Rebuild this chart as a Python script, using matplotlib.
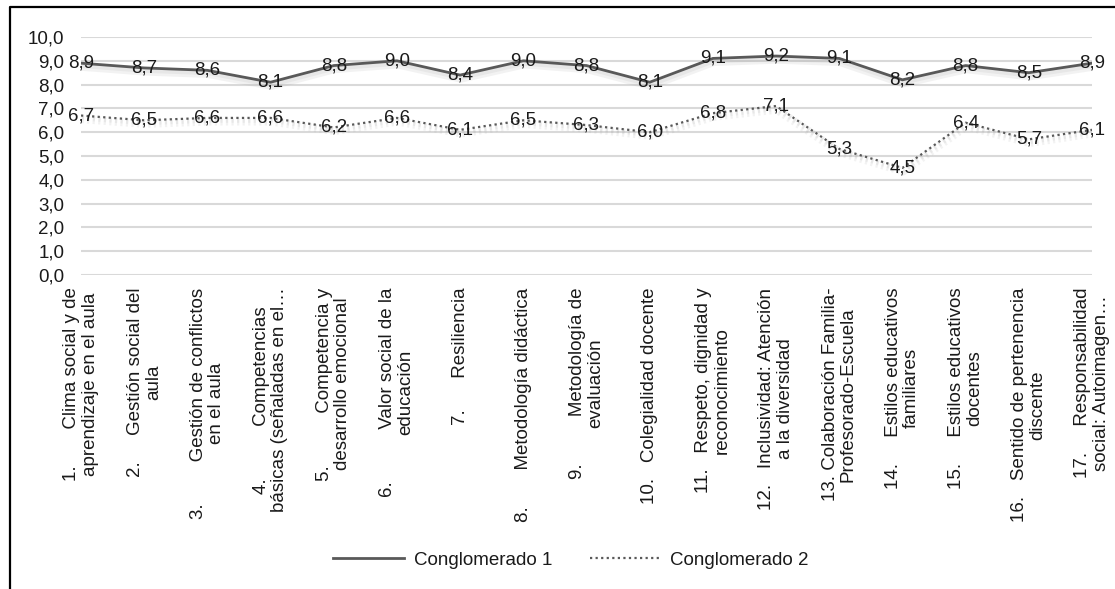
import matplotlib
matplotlib.use("Agg")
import matplotlib.pyplot as plt
import matplotlib.patheffects as pe
from matplotlib.lines import Line2D
from matplotlib.ticker import FuncFormatter


CATEGORIES = [
    "1." + " " * 7 + "Clima social y de\naprendizaje en el aula",
    "2." + " " * 5 + "Gestión social del\naula",
    "3." + " " * 8 + "Gestión de conflictos\nen el aula",
    "4." + " " * 10 + "Competencias\nbásicas (señaladas en el…",
    "5." + " " * 10 + "Competencia y\ndesarrollo emocional",
    "6." + " " * 10 + "Valor social de la\neducación",
    "7." + " " * 6 + "Resiliencia",
    "8." + " " * 7 + "Metodología didáctica",
    "9." + " " * 9 + "Metodología de\nevaluación",
    "10." + " " * 3 + "Colegialidad docente",
    "11." + " " * 3 + "Respeto, dignidad y\nreconocimiento",
    "12." + " " * 3 + "Inclusividad: Atención\na la diversidad",
    "13." + " " * 1 + "Colaboración Familia-\nProfesorado-Escuela",
    "14." + " " * 5 + "Estilos educativos\nfamiliares",
    "15." + " " * 5 + "Estilos educativos\ndocentes",
    "16." + " " * 3 + "Sentido de pertenencia\ndiscente",
    "17." + " " * 5 + "Responsabilidad\nsocial: Autoimagen…",
]

CONGLOMERADO_1 = [8.9, 8.7, 8.6, 8.1, 8.8, 9.0, 8.4, 9.0, 8.8, 8.1, 9.1, 9.2, 9.1, 8.2, 8.8, 8.5, 8.9]
CONGLOMERADO_2 = [6.7, 6.5, 6.6, 6.6, 6.2, 6.6, 6.1, 6.5, 6.3, 6.0, 6.8, 7.1, 5.3, 4.5, 6.4, 5.7, 6.1]
SERIES_NAMES = ["Conglomerado 1", "Conglomerado 2"]

Y_TICKS = [0, 1, 2, 3, 4, 5, 6, 7, 8, 9, 10]


def comma(v):
    return f"{v:.1f}".replace(".", ",")


def main():
    fs = 13.5
    plt.rcParams["font.family"] = ["Liberation Sans", "DejaVu Sans"]
    plt.rcParams["font.size"] = fs
    text_color = "#1a1a1a"
    line_color = "#595959"
    dotted = (0, (1, 1.5))

    W, H = 1115, 589
    fig = plt.figure(figsize=(W / 100, H / 100), dpi=100)
    ax = fig.add_axes([81 / W, 1 - 275 / H, (1092 - 81) / W, (275 - 37) / H])

    x = list(range(len(CATEGORIES)))

    # soft shadow under the lines, like the Excel original
    shadow = [pe.SimpleLineShadow(offset=(0.5, -2.5), shadow_color="#999999", alpha=0.12, linewidth=6),
              pe.SimpleLineShadow(offset=(0.5, -2), shadow_color="#999999", alpha=0.12, linewidth=3),
              pe.Normal()]
    ax.plot(x, CONGLOMERADO_1, color=line_color, linewidth=2.0, path_effects=shadow, zorder=3)
    ax.plot(x, CONGLOMERADO_2, color=line_color, linewidth=1.6, linestyle=dotted,
            path_effects=shadow, zorder=3)

    for xi, v in zip(x, CONGLOMERADO_1):
        ax.text(xi, v, comma(v), ha="center", va="center", color=text_color, fontsize=fs, zorder=4)
    for xi, v in zip(x, CONGLOMERADO_2):
        ax.text(xi, v, comma(v), ha="center", va="center", color=text_color, fontsize=fs, zorder=4)

    ax.set_xlim(0, len(CATEGORIES) - 1)
    ax.set_ylim(0, 10)
    ax.set_yticks(Y_TICKS)
    ax.yaxis.set_major_formatter(FuncFormatter(lambda v, p: comma(v)))
    ax.set_xticks(x)
    ax.set_xticklabels(CATEGORIES, rotation=90, ha="center", va="top")
    for t in ax.get_xticklabels():
        t.set_multialignment("center")
        t.set_linespacing(1.1)
    ax.tick_params(axis="both", length=0, colors=text_color, labelsize=fs)
    ax.tick_params(axis="x", pad=9)
    ax.tick_params(axis="y", pad=12)

    ax.grid(axis="y", color="#d9d9d9", linewidth=1.5)
    ax.set_axisbelow(True)
    for s in ax.spines.values():
        s.set_visible(False)

    handles = [Line2D([], [], color=line_color, linewidth=2.0),
               Line2D([], [], color=line_color, linewidth=1.6, linestyle=dotted)]
    fig.legend(handles, SERIES_NAMES, loc="center", bbox_to_anchor=(571 / W, 1 - 560 / H),
               ncol=2, frameon=False, handlelength=3.8, columnspacing=2.0,
               handletextpad=0.5, fontsize=fs, labelcolor=text_color)

    # outer frame (only left and top edges show)
    fig.add_artist(Line2D([10 / W, 10 / W, 1.0], [0.0, 1 - 7 / H, 1 - 7 / H],
                          transform=fig.transFigure, color="black", linewidth=1.6))

    fig.savefig("out.png", dpi=100)
    plt.close(fig)


if __name__ == "__main__":
    main()
